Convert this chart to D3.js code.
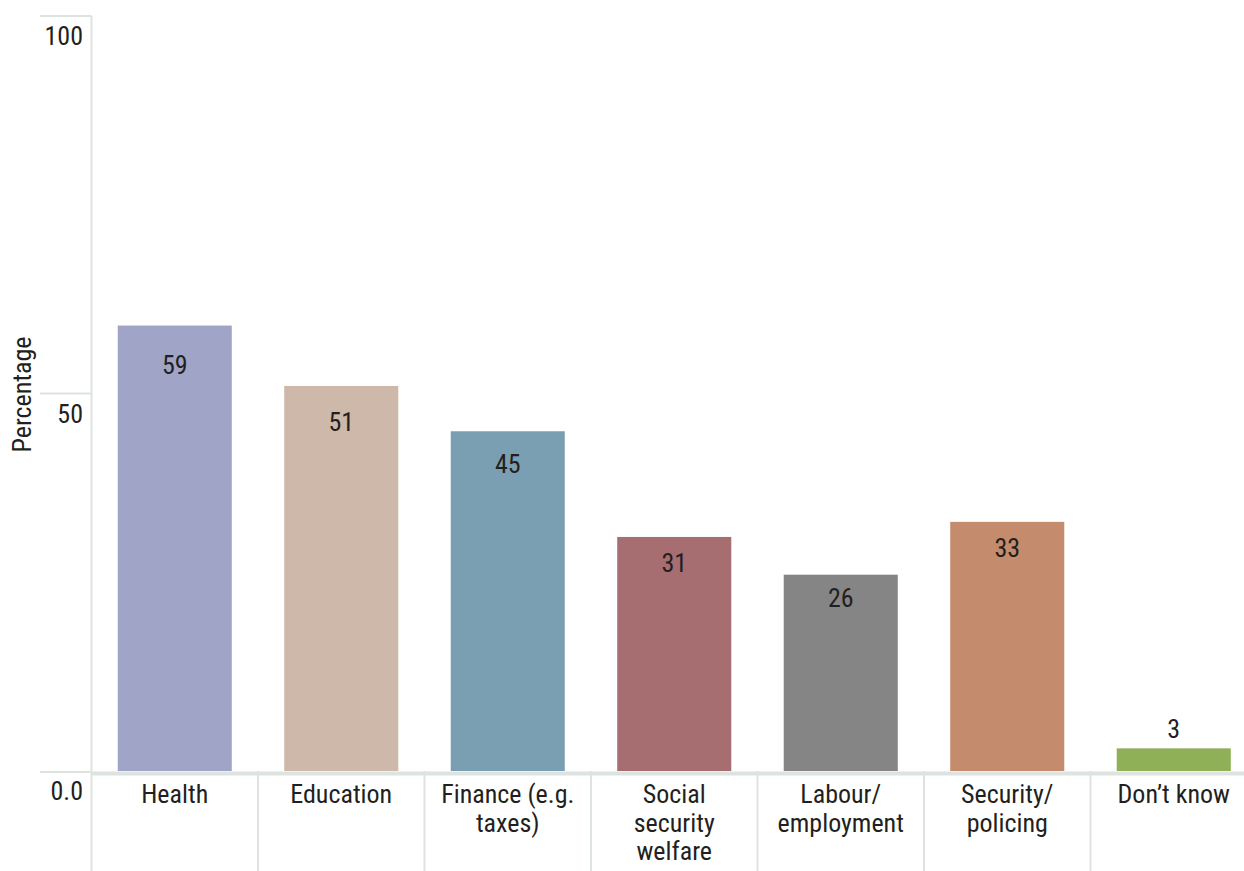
<!DOCTYPE html>
<html>
<head>
<meta charset="utf-8">
<script src="https://cdn.jsdelivr.net/npm/d3@7"></script>
<style>
  html, body { margin: 0; padding: 0; background: #ffffff; }
  svg { display: block; }
  text { font-family: "Roboto Condensed", Roboto, "Noto Sans", sans-serif; fill: #231f20; }
</style>
</head>
<body>
<svg id="chart" width="1244" height="871"></svg>
<script>
// Share of respondents naming each area (%)
const categories = ["Health", "Education", "Finance (e.g.\ntaxes)", "Social\nsecurity\nwelfare", "Labour/\nemployment", "Security/\npolicing", "Don’t know"];
const values = [59, 51, 45, 31, 26, 33, 3];
const colors = ["#a0a5c8", "#cdb8a9", "#7b9fb2", "#a76e72", "#858585", "#c48c6c", "#8fb056"];
const yTicks = [0, 50, 100];
const yTickLabels = ["0.0", "50", "100"];

const W = 1244, H = 871;
const svg = d3.select("#chart");
const gridColor = "#dde3e0";

const x = d3.scaleBand()
  .domain(d3.range(categories.length))
  .range([91.5, 1257])
  .paddingInner(0.315)
  .paddingOuter(0.1575);

const y = d3.scaleLinear().domain([0, 100]).range([771, 16]);

// band separators under the baseline
const step = x.step();
const x0 = x.range()[0];
svg.append("g")
  .selectAll("line")
  .data(d3.range(1, categories.length))
  .join("line")
  .attr("x1", i => x0 + i * step)
  .attr("x2", i => x0 + i * step)
  .attr("y1", y(0))
  .attr("y2", H)
  .attr("stroke", gridColor)
  .attr("stroke-width", 2);

// y axis: line, tick stubs, labels hanging under each tick
const yAxis = svg.append("g");
yAxis.append("line")
  .attr("x1", x0).attr("x2", x0)
  .attr("y1", y(100)).attr("y2", H)
  .attr("stroke", gridColor).attr("stroke-width", 2);
yAxis.selectAll("line.tick")
  .data(yTicks)
  .join("line")
  .attr("class", "tick")
  .attr("x1", 40).attr("x2", x0)
  .attr("y1", d => y(d) + (d === 0 ? 1 : 0))
  .attr("y2", d => y(d) + (d === 0 ? 1 : 0))
  .attr("stroke", gridColor).attr("stroke-width", 2);
yAxis.selectAll("text")
  .data(yTicks)
  .join("text")
  .attr("x", 83)
  .attr("y", d => y(d) + 29)
  .attr("text-anchor", "end")
  .style("font-size", "26px")
  .text((d, i) => yTickLabels[i]);

svg.append("text")
  .attr("transform", `translate(31,${y(50) + 1}) rotate(-90)`)
  .attr("text-anchor", "middle")
  .style("font-size", "26px")
  .text("Percentage");

// bars
svg.append("g")
  .selectAll("rect")
  .data(values)
  .join("rect")
  .attr("x", (d, i) => x(i))
  .attr("width", x.bandwidth())
  .attr("y", d => y(d))
  .attr("height", d => y(0) - y(d))
  .attr("fill", (d, i) => colors[i]);

// baseline
svg.append("line")
  .attr("x1", x0).attr("x2", W)
  .attr("y1", y(0) + 2.5).attr("y2", y(0) + 2.5)
  .attr("stroke", gridColor).attr("stroke-width", 4);

// value labels: inside just below the top, or above short bars
svg.append("g")
  .selectAll("text")
  .data(values)
  .join("text")
  .attr("x", (d, i) => x(i) + x.bandwidth() / 2)
  .attr("y", d => (d > 10 ? y(0.933 * d - 2.5) : y(d) - 10))
  .attr("text-anchor", "middle")
  .style("font-size", "26px")
  .text(d => d);

// category labels
const cat = svg.append("g")
  .selectAll("text")
  .data(categories)
  .join("text")
  .attr("x", (d, i) => x(i) + x.bandwidth() / 2)
  .attr("y", 803)
  .attr("text-anchor", "middle")
  .style("font-size", "26px");
cat.selectAll("tspan")
  .data(d => d.split("\n"))
  .join("tspan")
  .attr("x", function () { return this.parentNode.getAttribute("x"); })
  .attr("dy", (d, i) => (i === 0 ? 0 : 28.5))
  .text(d => d);
</script>
</body>
</html>
